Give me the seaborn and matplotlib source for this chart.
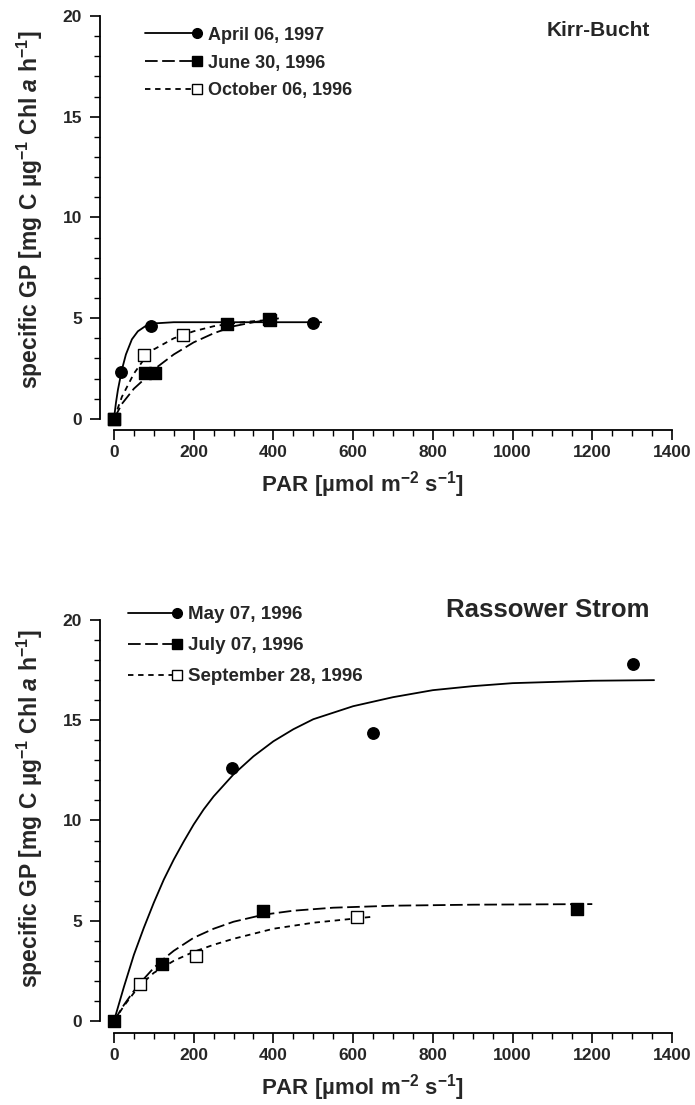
import matplotlib
matplotlib.use('Agg')
import matplotlib.pyplot as plt
import seaborn as sns
from matplotlib.lines import Line2D
from matplotlib.legend_handler import HandlerLine2D
from matplotlib.ticker import MultipleLocator

sns.set_style('ticks')
plt.rcParams['font.family'] = ['Liberation Sans', 'DejaVu Sans']
plt.rcParams['font.weight'] = 'bold'
plt.rcParams['mathtext.fontset'] = 'custom'
plt.rcParams['mathtext.rm'] = 'Liberation Sans:bold'
plt.rcParams['mathtext.it'] = 'Liberation Sans:bold:italic'
plt.rcParams['mathtext.bf'] = 'Liberation Sans:bold'

# ---- Kirr-Bucht: measured points ----
kirr_apr_x = [0, 17, 94, 500]
kirr_apr_y = [0, 2.35, 4.62, 4.78]
kirr_jun_x = [0, 78, 103, 284, 391]
kirr_jun_y = [0, 2.27, 2.3, 4.71, 4.91]
kirr_oct_x = [0, 75, 172, 388]
kirr_oct_y = [0, 3.18, 4.17, 4.95]

# Kirr-Bucht: fitted curves
kirr_apr_fit_x = [0, 5, 10, 20, 30, 45, 60, 80, 100, 150, 250, 520]
kirr_apr_fit_y = [0, 0.8, 1.45, 2.45, 3.2, 3.95, 4.35, 4.62, 4.74, 4.8, 4.8, 4.8]
kirr_jun_fit_x = [0, 20, 50, 75, 100, 150, 200, 250, 300, 350, 416]
kirr_jun_fit_y = [0, 0.75, 1.5, 1.95, 2.45, 3.2, 3.8, 4.25, 4.6, 4.8, 5.0]
kirr_oct_fit_x = [0, 20, 50, 75, 100, 150, 200, 250, 300, 350, 410]
kirr_oct_fit_y = [0, 1.1, 2.25, 2.95, 3.45, 4.0, 4.35, 4.6, 4.75, 4.85, 4.95]

# ---- Rassower Strom: measured points ----
rass_may_x = [295, 649, 1303]
rass_may_y = [12.6, 14.37, 17.8]
rass_jul_x = [0, 120, 373, 1162]
rass_jul_y = [0, 2.86, 5.5, 5.58]
rass_sep_x = [65, 206, 609]
rass_sep_y = [1.82, 3.22, 5.2]

# Rassower Strom: fitted curves
rass_may_fit_x = [0, 25, 50, 75, 100, 125, 150, 175, 200, 225, 250, 300, 350, 400, 450,
                  500, 600, 700, 800, 900, 1000, 1200, 1355]
rass_may_fit_y = [0, 1.7, 3.3, 4.65, 5.9, 7.05, 8.05, 8.95, 9.8, 10.55, 11.2, 12.3, 13.2,
                  13.95, 14.55, 15.05, 15.7, 16.15, 16.5, 16.7, 16.85, 16.97, 17.0]
rass_jul_fit_x = [0, 25, 50, 75, 100, 125, 150, 200, 250, 300, 375, 450, 550, 700, 900, 1200]
rass_jul_fit_y = [0, 0.8, 1.5, 2.1, 2.65, 3.1, 3.5, 4.15, 4.6, 4.95, 5.3, 5.5, 5.65, 5.75, 5.8, 5.83]
rass_sep_fit_x = [0, 25, 50, 75, 100, 150, 200, 250, 300, 400, 500, 600, 650]
rass_sep_fit_y = [0, 0.75, 1.4, 1.95, 2.4, 3.0, 3.45, 3.8, 4.1, 4.6, 4.9, 5.1, 5.2]

kirr_labels = ['April 06, 1997', 'June 30, 1996', 'October 06, 1996']
rass_labels = ['May 07, 1996', 'July 07, 1996', 'September 28, 1996']

solid = '-'
longdash = (0, (7, 2.5))
shortdash = (0, (3, 2.6))


class EndMarker(HandlerLine2D):
    # put the marker at the right end of the legend line
    def create_artists(self, *args, **kwargs):
        artists = super().create_artists(*args, **kwargs)
        line = artists[0]
        line.set_markevery([len(line.get_xdata()) - 1])
        return artists


def draw_series(ax, fx, fy, px, py, ls, marker, face):
    sns.lineplot(x=fx, y=fy, ax=ax, color='black', lw=1.3, linestyle=ls,
                 sort=False, errorbar=None)
    sns.scatterplot(x=px, y=py, ax=ax, marker=marker, s=68, facecolor=face,
                    edgecolor='black', linewidth=1.0, zorder=3)


def style_axes(ax, ylo, ylab_y):
    ax.set_xlim(-35, 1400)
    ax.set_ylim(ylo, 20)
    sns.despine(ax=ax)
    ax.spines['bottom'].set_bounds(0, 1400)
    ax.spines['left'].set_bounds(0, 20)
    for s in ['bottom', 'left']:
        ax.spines[s].set_linewidth(1.3)
        ax.spines[s].set_color('black')
    ax.xaxis.set_major_locator(MultipleLocator(200))
    ax.xaxis.set_minor_locator(MultipleLocator(50))
    ax.yaxis.set_major_locator(MultipleLocator(5))
    ax.yaxis.set_minor_locator(MultipleLocator(1))
    ax.tick_params(which='major', length=7, width=1.2, labelsize=12.5, color='black')
    ax.tick_params(axis='x', which='major', pad=4)
    ax.tick_params(axis='y', which='major', pad=6)
    ax.tick_params(which='minor', length=4, width=1.0, color='black')
    ax.set_xlabel('PAR [µmol m$^{-2}$ s$^{-1}$]', fontsize=16, fontweight='bold')
    ax.set_ylabel('specific GP [mg C µg$^{-1}$ Chl $a$ h$^{-1}$]', fontsize=16.5,
                  fontweight='bold')
    ax.xaxis.set_label_coords(0.458, -0.095)
    ax.yaxis.set_label_coords(-0.097, ylab_y)


def add_legend(ax, labels, anchor, size, hlen, spacing):
    handles = [
        Line2D([], [], color='black', lw=1.3, ls=solid, marker='o', ms=7,
               mfc='black', mec='black'),
        Line2D([], [], color='black', lw=1.3, ls=longdash, marker='s', ms=7,
               mfc='black', mec='black'),
        Line2D([], [], color='black', lw=1.3, ls=shortdash, marker='s', ms=7,
               mfc='white', mec='black'),
    ]
    ax.legend(handles, labels, loc='upper left', bbox_to_anchor=anchor,
              frameon=False, fontsize=size, handlelength=hlen, handletextpad=0.6,
              labelspacing=spacing, borderpad=0, borderaxespad=0, numpoints=1,
              handler_map={Line2D: EndMarker()})


fig = plt.figure(figsize=(6.95, 11.05), dpi=100)
ax1 = fig.add_axes([100 / 695, 1 - 430 / 1105, 572 / 695, 414 / 1105])
ax2 = fig.add_axes([100 / 695, 1 - 1033 / 1105, 572 / 695, 413 / 1105])

# top panel
draw_series(ax1, kirr_apr_fit_x, kirr_apr_fit_y, kirr_apr_x, kirr_apr_y, solid, 'o', 'black')
draw_series(ax1, kirr_oct_fit_x, kirr_oct_fit_y, kirr_oct_x, kirr_oct_y, shortdash, 's', 'white')
draw_series(ax1, kirr_jun_fit_x, kirr_jun_fit_y, kirr_jun_x, kirr_jun_y, longdash, 's', 'black')
style_axes(ax1, -0.55, 0.531)
add_legend(ax1, kirr_labels, (0.0787, 0.974), 13, 2.9, 0.6)
ax1.text(0.9615, 0.966, 'Kirr-Bucht', transform=ax1.transAxes, ha='right',
         va='center', fontsize=15, fontweight='bold')

# bottom panel
draw_series(ax2, rass_may_fit_x, rass_may_fit_y, rass_may_x, rass_may_y, solid, 'o', 'black')
draw_series(ax2, rass_sep_fit_x, rass_sep_fit_y, rass_sep_x, rass_sep_y, shortdash, 's', 'white')
draw_series(ax2, rass_jul_fit_x, rass_jul_fit_y, rass_jul_x, rass_jul_y, longdash, 's', 'black')
style_axes(ax2, -0.6, 0.542)
add_legend(ax2, rass_labels, (0.049, 1.034), 13.5, 2.6, 0.75)
ax2.text(0.9615, 1.024, 'Rassower Strom', transform=ax2.transAxes, ha='right',
         va='center', fontsize=18.5, fontweight='bold')

fig.savefig('out.png', dpi=100)
